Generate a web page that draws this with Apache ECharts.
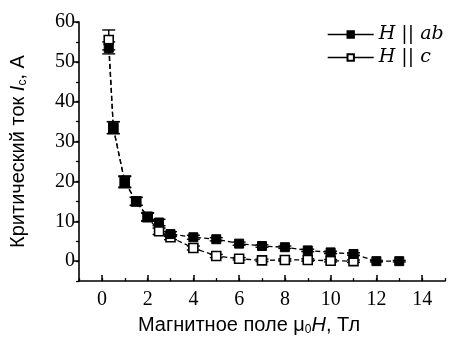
<!DOCTYPE html>
<html>
<head>
<meta charset="utf-8">
<script src="https://cdn.jsdelivr.net/npm/echarts@6/dist/echarts.min.js"></script>
<style>html,body{margin:0;padding:0;background:#fff}#c{width:451px;height:341px}</style>
</head>
<body>
<div id="c"></div>
<script>
// Field values (T)
const abX = [0.3, 0.5, 1, 1.5, 2, 2.5, 3, 4, 5, 6, 7, 8, 9, 10, 11, 12, 13];
// Critical current, H || ab (A)
const abValues = [53.5, 33.5, 19.8, 15, 11.2, 9.7, 6.8, 6, 5.5, 4.4, 3.8, 3.5, 2.7, 2.2, 1.8, 0, 0];
const abErrors = [1.5, 1.5, 1.4, 1, 1, 0.8, 0.6, 0.5, 0.4, 0.4, 0.3, 0.3, 0.3, 0.3, 0.3, 0.2, 0.2];
const cX = [0.3, 0.5, 1, 1.5, 2, 2.5, 3, 4, 5, 6, 7, 8, 9, 10, 11];
// Critical current, H || c (A)
const cValues = [55.5, 33.5, 20, 15, 11, 7.5, 6, 3.3, 1.3, 0.6, 0.2, 0.3, 0.3, 0.1, 0];
const cErrors = [2.5, 1.5, 1.4, 1, 1, 0.8, 0.6, 0.5, 0.4, 0.3, 0.3, 0.3, 0.3, 0.3, 0.3];
const xTicks = [0, 2, 4, 6, 8, 10, 12, 14];
const yTicks = [0, 10, 20, 30, 40, 50, 60];
const seriesNames = ['H || ab', 'H || c'];

const pts = (xs, ys) => xs.map((x, i) => [x, ys[i]]);
const errs = (xs, ys, es) => xs.map((x, i) => [x, ys[i] - es[i], ys[i] + es[i]]);

function errRender(params, api) {
  const x = api.value(0), lo = api.value(1), hi = api.value(2);
  const p1 = api.coord([x, lo]), p2 = api.coord([x, hi]);
  const hw = 6.5;
  const st = { stroke: '#000', lineWidth: 1.4 };
  return { type: 'group', children: [
    { type: 'line', shape: { x1: p1[0], y1: p1[1], x2: p2[0], y2: p2[1] }, style: st },
    { type: 'line', shape: { x1: p1[0] - hw, y1: p1[1], x2: p1[0] + hw, y2: p1[1] }, style: st },
    { type: 'line', shape: { x1: p2[0] - hw, y1: p2[1], x2: p2[0] + hw, y2: p2[1] }, style: st }
  ]};
}

const serif = 'Liberation Serif';
const lserif = 'DejaVu Serif';
const sans = 'Liberation Sans';
const chart = echarts.init(document.getElementById('c'), null, { renderer: 'canvas' });
chart.setOption({
  animation: false,
  backgroundColor: '#fff',
  grid: { left: 77, right: 6, top: 22, bottom: 59 },
  legend: {
    data: seriesNames,
    orient: 'vertical',
    left: 322, top: 20,
    itemWidth: 46, itemHeight: 8, itemGap: 4,
    lineStyle: { type: 'solid', width: 1.4 },
    formatter: n => n === 'H || ab' ? '{i|H}{n| || }{i|ab}' : '{i|H}{n| || }{i|c}',
    textStyle: {
      color: '#000',
      rich: {
        i: { fontFamily: lserif, fontStyle: 'italic', fontSize: 19, color: '#000' },
        n: { fontFamily: lserif, fontSize: 19, color: '#000' }
      }
    }
  },
  xAxis: [{
    type: 'value', min: -1, max: 15,
    axisLine: { onZero: false, lineStyle: { color: '#000', width: 1.6 } },
    axisTick: { inside: true, length: 6, customValues: xTicks, lineStyle: { color: '#000', width: 1.5 } },
    axisLabel: { customValues: xTicks, margin: 9, fontFamily: serif, fontSize: 20, color: '#000' },
    splitLine: { show: false },
    name: 'Магнитное поле {mu|μ}{sub|0}{it|H}, Тл',
    nameLocation: 'middle', nameGap: 32,
    nameTextStyle: {
      fontFamily: sans, fontSize: 20, color: '#000', padding: [0, 26, 0, 0],
      rich: {
        mu: { fontFamily: sans, fontSize: 20, color: '#000' },
        sub: { fontFamily: sans, fontSize: 12, color: '#000', padding: [10, 0, 0, 0] },
        it: { fontFamily: sans, fontStyle: 'italic', fontSize: 20, color: '#000' }
      }
    }
  }, {
    type: 'value', min: -1, max: 15, interval: 1, position: 'bottom',
    axisLine: { show: false, onZero: false },
    axisTick: { inside: true, length: 3, lineStyle: { color: '#000', width: 1.3 } },
    axisLabel: { show: false }, splitLine: { show: false }
  }],
  yAxis: [{
    type: 'value', min: -5, max: 60,
    axisLine: { show: true, onZero: false, lineStyle: { color: '#000', width: 1.6 } },
    axisTick: { show: true, inside: false, length: 5, customValues: yTicks, lineStyle: { color: '#000', width: 1.5 } },
    axisLabel: { customValues: yTicks, margin: 4, fontFamily: serif, fontSize: 20, color: '#000' },
    splitLine: { show: false },
    name: 'Критический ток {it|I}{sub|c}, A',
    nameLocation: 'middle', nameGap: 50,
    nameTextStyle: {
      fontFamily: sans, fontSize: 20, color: '#000',
      rich: {
        sub: { fontFamily: sans, fontSize: 12, color: '#000', padding: [10, 0, 0, 0] },
        it: { fontFamily: sans, fontStyle: 'italic', fontSize: 20, color: '#000' }
      }
    }
  }, {
    type: 'value', min: -5, max: 60, interval: 5, position: 'left',
    axisLine: { show: false, onZero: false },
    axisTick: { show: true, inside: false, length: 3, lineStyle: { color: '#000', width: 1.3 } },
    axisLabel: { show: false }, splitLine: { show: false }
  }],
  series: [
    { type: 'custom', name: 'errC', renderItem: errRender, data: errs(cX, cValues, cErrors), encode: { x: 0, y: [1, 2] }, z: 1, silent: true },
    { type: 'custom', name: 'errAb', renderItem: errRender, data: errs(abX, abValues, abErrors), encode: { x: 0, y: [1, 2] }, z: 1, silent: true },
    {
      type: 'line', name: seriesNames[1], data: pts(cX, cValues), z: 3,
      symbol: 'rect', symbolSize: 9, showAllSymbol: true,
      lineStyle: { color: '#000', width: 1.3, type: [5, 3] },
      itemStyle: { color: '#fff', borderColor: '#000', borderWidth: 1.6 }
    },
    {
      type: 'line', name: seriesNames[0], data: pts(abX, abValues), z: 4,
      symbol: 'rect', symbolSize: 9, showAllSymbol: true,
      lineStyle: { color: '#000', width: 1.3, type: [5, 3] },
      itemStyle: { color: '#000', borderColor: '#000', borderWidth: 1 }
    }
  ]
});
</script>
</body>
</html>
